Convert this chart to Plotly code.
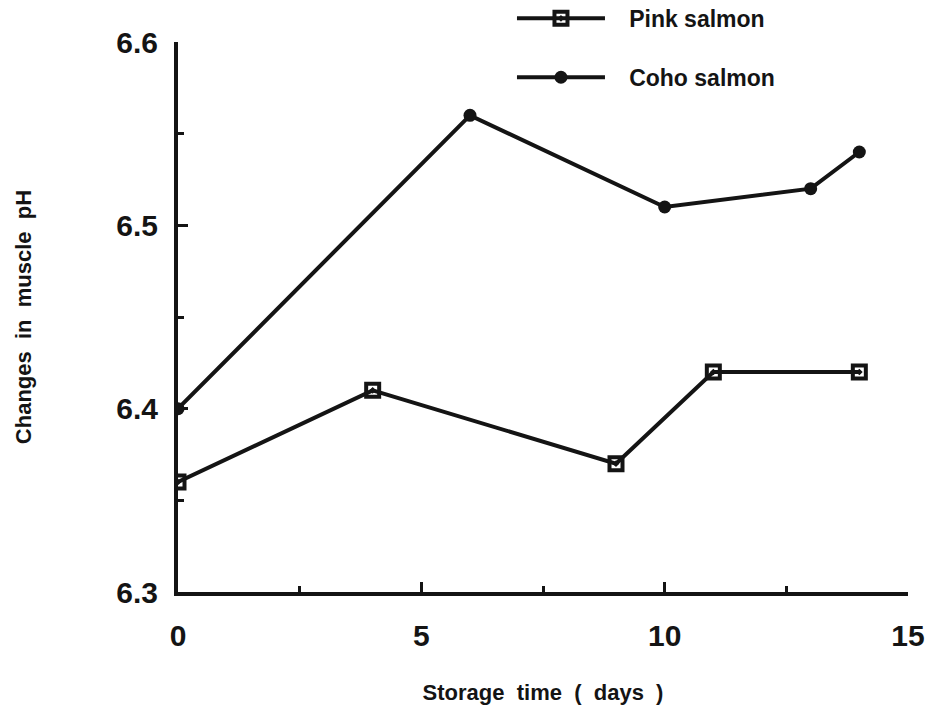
import plotly.graph_objects as go

pink_days = [0, 4, 9, 11, 14]
pink_ph = [6.36, 6.41, 6.37, 6.42, 6.42]
coho_days = [0, 6, 10, 13, 14]
coho_ph = [6.40, 6.56, 6.51, 6.52, 6.54]

x_ticks = [0, 5, 10, 15]
y_ticks = [6.3, 6.4, 6.5, 6.6]
y_tick_text = ["6.3", "6.4", "6.5", "6.6"]

FONT = "Liberation Sans, Arial, sans-serif"
INK = "#141414"
PAD = "\u00a0\u00a0\u00a0"

fig = go.Figure()
fig.add_trace(go.Scatter(
    x=pink_days, y=pink_ph, mode="lines+markers", name=PAD + "<b>Pink salmon</b>",
    legendgroup="pink",
    line=dict(color=INK, width=4),
    marker=dict(symbol="square-open-dot", size=13, color=INK, line=dict(width=4, color=INK)),
))
fig.add_trace(go.Scatter(
    x=coho_days, y=coho_ph, mode="lines+markers", name=PAD + "<b>Coho salmon</b>",
    legendgroup="coho",
    line=dict(color=INK, width=4),
    marker=dict(symbol="circle", size=13, color=INK),
))

axis_common = dict(
    showline=True, linecolor=INK, linewidth=4, mirror=False,
    showgrid=False, zeroline=False,
    ticks="inside", ticklen=10, tickwidth=3, tickcolor=INK,
    tickfont=dict(family=FONT, size=30, color=INK, weight="bold"),
)

fig.update_layout(
    width=932, height=715,
    margin=dict(l=178, r=24, t=42, b=123, autoexpand=False),
    paper_bgcolor="white", plot_bgcolor="white",
    font=dict(family=FONT, color=INK),
    showlegend=True,
    legend=dict(
        x=0.4575, y=1.082, xanchor="left", yanchor="top",
        font=dict(family=FONT, size=23, color=INK),
        itemwidth=88, tracegroupgap=26, traceorder="grouped",
        bgcolor="rgba(0,0,0,0)",
    ),
    xaxis=dict(
        range=[0, 15], tickvals=x_ticks, ticktext=[str(v) for v in x_ticks],
        ticklabelstandoff=14,
        minor=dict(tickvals=[2.5, 7.5, 12.5], ticks="inside", ticklen=6, tickwidth=3, tickcolor=INK),
        title=dict(text="<b>Storage  time  (  days  )</b>", standoff=35,
                   font=dict(family=FONT, size=22, color=INK)),
        **axis_common,
    ),
    yaxis=dict(
        range=[6.3, 6.6], tickvals=y_ticks, ticktext=y_tick_text,
        ticklabelstandoff=10,
        minor=dict(tickvals=[6.35, 6.45, 6.55], ticks="inside", ticklen=6, tickwidth=3, tickcolor=INK),
        title=dict(text="<b>Changes  in  muscle  pH</b>", standoff=80,
                   font=dict(family=FONT, size=22, color=INK)),
        **axis_common,
    ),
)

fig.write_html("out.html")
